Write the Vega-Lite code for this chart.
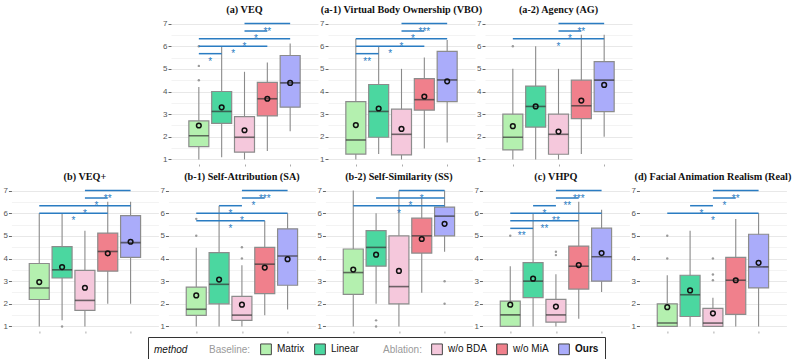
{
  "$schema": "https://vega.github.io/schema/vega-lite/v6.json",
  "padding": {"left": 2, "top": 4, "right": 0, "bottom": 0},
  "background": "white",
  "datasets": {
    "d": [
      {"k":"b","m":"(a) VEQ","method":"Matrix","i":1,"lo":1.0,"q1":1.57,"med":2.05,"q3":2.7,"hi":4.2,"mean":2.5},
      {"k":"b","m":"(a) VEQ","method":"Linear","i":2,"lo":1.1,"q1":2.59,"med":3.12,"q3":4.0,"hi":6.0,"mean":3.3},
      {"k":"b","m":"(a) VEQ","method":"w/o BDA","i":3,"lo":1.0,"q1":1.32,"med":1.98,"q3":2.89,"hi":4.87,"mean":2.29},
      {"k":"b","m":"(a) VEQ","method":"w/o MiA","i":4,"lo":1.37,"q1":2.92,"med":3.68,"q3":4.4,"hi":5.28,"mean":3.68},
      {"k":"b","m":"(a) VEQ","method":"Ours","i":5,"lo":2.25,"q1":3.31,"med":4.38,"q3":5.59,"hi":6.12,"mean":4.38},
      {"k":"o","m":"(a) VEQ","method":"Matrix","i":1,"v":4.5},
      {"k":"o","m":"(a) VEQ","method":"Matrix","i":1,"v":5.13},
      {"k":"o","m":"(a) VEQ","method":"Matrix","i":1,"v":6.0},
      {"k":"s","m":"(a) VEQ","a":3,"b":5,"y":7.0,"lab":"**"},
      {"k":"s","m":"(a) VEQ","a":3,"b":4,"y":6.67,"lab":"*"},
      {"k":"s","m":"(a) VEQ","a":1,"b":5,"y":6.33,"lab":"*"},
      {"k":"s","m":"(a) VEQ","a":1,"b":4,"y":6.0,"lab":"*"},
      {"k":"s","m":"(a) VEQ","a":1,"b":2,"y":5.67,"lab":"*"},

      {"k":"b","m":"(a-1) Virtual Body Ownership (VBO)","method":"Matrix","i":1,"lo":1.0,"q1":1.24,"med":1.86,"q3":3.55,"hi":6.33,"mean":2.52},
      {"k":"b","m":"(a-1) Virtual Body Ownership (VBO)","method":"Linear","i":2,"lo":1.24,"q1":1.98,"med":3.12,"q3":4.31,"hi":6.0,"mean":3.25},
      {"k":"b","m":"(a-1) Virtual Body Ownership (VBO)","method":"w/o BDA","i":3,"lo":1.0,"q1":1.2,"med":2.11,"q3":3.22,"hi":5.0,"mean":2.35},
      {"k":"b","m":"(a-1) Virtual Body Ownership (VBO)","method":"w/o MiA","i":4,"lo":1.48,"q1":3.18,"med":3.64,"q3":4.57,"hi":5.5,"mean":3.78},
      {"k":"b","m":"(a-1) Virtual Body Ownership (VBO)","method":"Ours","i":5,"lo":1.75,"q1":3.55,"med":4.51,"q3":5.77,"hi":6.27,"mean":4.45},
      {"k":"s","m":"(a-1) Virtual Body Ownership (VBO)","a":3,"b":5,"y":7.0,"lab":"***"},
      {"k":"s","m":"(a-1) Virtual Body Ownership (VBO)","a":3,"b":4,"y":6.67,"lab":"*"},
      {"k":"s","m":"(a-1) Virtual Body Ownership (VBO)","a":1,"b":5,"y":6.33,"lab":"*"},
      {"k":"s","m":"(a-1) Virtual Body Ownership (VBO)","a":1,"b":4,"y":6.0,"lab":"*"},
      {"k":"s","m":"(a-1) Virtual Body Ownership (VBO)","a":1,"b":2,"y":5.67,"lab":"**"},

      {"k":"b","m":"(a-2) Agency (AG)","method":"Matrix","i":1,"lo":1.0,"q1":1.42,"med":1.98,"q3":3.0,"hi":5.0,"mean":2.47},
      {"k":"b","m":"(a-2) Agency (AG)","method":"Linear","i":2,"lo":1.0,"q1":2.43,"med":3.34,"q3":4.24,"hi":6.0,"mean":3.34},
      {"k":"b","m":"(a-2) Agency (AG)","method":"w/o BDA","i":3,"lo":1.0,"q1":1.23,"med":2.11,"q3":3.0,"hi":5.0,"mean":2.23},
      {"k":"b","m":"(a-2) Agency (AG)","method":"w/o MiA","i":4,"lo":1.24,"q1":2.8,"med":3.37,"q3":4.5,"hi":6.5,"mean":3.6},
      {"k":"b","m":"(a-2) Agency (AG)","method":"Ours","i":5,"lo":2.0,"q1":3.11,"med":4.5,"q3":5.32,"hi":6.5,"mean":4.29},
      {"k":"o","m":"(a-2) Agency (AG)","method":"Matrix","i":1,"v":6.0},
      {"k":"s","m":"(a-2) Agency (AG)","a":3,"b":5,"y":7.0,"lab":"**"},
      {"k":"s","m":"(a-2) Agency (AG)","a":3,"b":4,"y":6.67,"lab":"*"},
      {"k":"s","m":"(a-2) Agency (AG)","a":1,"b":5,"y":6.33,"lab":"*"},

      {"k":"b","m":"(b) VEQ+","method":"Matrix","i":1,"lo":1.0,"q1":2.19,"med":2.7,"q3":3.78,"hi":6.0,"mean":2.96},
      {"k":"b","m":"(b) VEQ+","method":"Linear","i":2,"lo":1.27,"q1":3.14,"med":3.5,"q3":4.52,"hi":6.0,"mean":3.62},
      {"k":"b","m":"(b) VEQ+","method":"w/o BDA","i":3,"lo":1.0,"q1":1.71,"med":2.15,"q3":3.48,"hi":5.23,"mean":2.71},
      {"k":"b","m":"(b) VEQ+","method":"w/o MiA","i":4,"lo":2.0,"q1":3.44,"med":4.31,"q3":5.12,"hi":6.5,"mean":4.23},
      {"k":"b","m":"(b) VEQ+","method":"Ours","i":5,"lo":2.0,"q1":4.05,"med":4.7,"q3":5.89,"hi":6.5,"mean":4.74},
      {"k":"o","m":"(b) VEQ+","method":"Linear","i":2,"v":1.0},
      {"k":"s","m":"(b) VEQ+","a":3,"b":5,"y":7.0,"lab":"**"},
      {"k":"s","m":"(b) VEQ+","a":3,"b":4,"y":6.67,"lab":"*"},
      {"k":"s","m":"(b) VEQ+","a":1,"b":5,"y":6.33,"lab":"*"},
      {"k":"s","m":"(b) VEQ+","a":1,"b":4,"y":6.0,"lab":"*"},

      {"k":"b","m":"(b-1) Self-Attribution (SA)","method":"Matrix","i":1,"lo":1.0,"q1":1.49,"med":1.76,"q3":2.74,"hi":4.48,"mean":2.37},
      {"k":"b","m":"(b-1) Self-Attribution (SA)","method":"Linear","i":2,"lo":1.0,"q1":2.0,"med":2.86,"q3":4.26,"hi":6.33,"mean":3.07},
      {"k":"b","m":"(b-1) Self-Attribution (SA)","method":"w/o BDA","i":3,"lo":1.0,"q1":1.27,"med":1.5,"q3":2.33,"hi":3.7,"mean":1.96},
      {"k":"b","m":"(b-1) Self-Attribution (SA)","method":"w/o MiA","i":4,"lo":1.5,"q1":2.45,"med":3.75,"q3":4.49,"hi":5.67,"mean":3.6},
      {"k":"b","m":"(b-1) Self-Attribution (SA)","method":"Ours","i":5,"lo":1.75,"q1":2.82,"med":4.11,"q3":5.31,"hi":6.0,"mean":3.97},
      {"k":"o","m":"(b-1) Self-Attribution (SA)","method":"Matrix","i":1,"v":5.0},
      {"k":"o","m":"(b-1) Self-Attribution (SA)","method":"Matrix","i":1,"v":5.75},
      {"k":"o","m":"(b-1) Self-Attribution (SA)","method":"w/o BDA","i":3,"v":4.0},
      {"k":"o","m":"(b-1) Self-Attribution (SA)","method":"w/o BDA","i":3,"v":4.5},
      {"k":"s","m":"(b-1) Self-Attribution (SA)","a":3,"b":5,"y":7.0,"lab":"***"},
      {"k":"s","m":"(b-1) Self-Attribution (SA)","a":3,"b":4,"y":6.67,"lab":"*"},
      {"k":"s","m":"(b-1) Self-Attribution (SA)","a":2,"b":3,"y":6.33,"lab":"*"},
      {"k":"s","m":"(b-1) Self-Attribution (SA)","a":1,"b":5,"y":6.0,"lab":"*"},
      {"k":"s","m":"(b-1) Self-Attribution (SA)","a":1,"b":4,"y":5.67,"lab":"*"},

      {"k":"b","m":"(b-2) Self-Similarity (SS)","method":"Matrix","i":1,"lo":1.0,"q1":2.42,"med":3.38,"q3":4.42,"hi":7.0,"mean":3.51},
      {"k":"b","m":"(b-2) Self-Similarity (SS)","method":"Linear","i":2,"lo":2.0,"q1":3.66,"med":4.49,"q3":5.23,"hi":6.0,"mean":4.17},
      {"k":"b","m":"(b-2) Self-Similarity (SS)","method":"w/o BDA","i":3,"lo":1.0,"q1":2.0,"med":2.76,"q3":5.0,"hi":7.0,"mean":3.45},
      {"k":"b","m":"(b-2) Self-Similarity (SS)","method":"w/o MiA","i":4,"lo":2.49,"q1":4.24,"med":5.0,"q3":5.78,"hi":6.67,"mean":4.86},
      {"k":"b","m":"(b-2) Self-Similarity (SS)","method":"Ours","i":5,"lo":4.3,"q1":5.0,"med":5.87,"q3":6.27,"hi":7.0,"mean":5.53},
      {"k":"o","m":"(b-2) Self-Similarity (SS)","method":"Linear","i":2,"v":1.27},
      {"k":"o","m":"(b-2) Self-Similarity (SS)","method":"Linear","i":2,"v":1.0},
      {"k":"o","m":"(b-2) Self-Similarity (SS)","method":"Ours","i":5,"v":3.0},
      {"k":"o","m":"(b-2) Self-Similarity (SS)","method":"Ours","i":5,"v":2.0},
      {"k":"s","m":"(b-2) Self-Similarity (SS)","a":3,"b":5,"y":7.0,"lab":"*"},
      {"k":"s","m":"(b-2) Self-Similarity (SS)","a":2,"b":5,"y":6.67,"lab":"*"},
      {"k":"s","m":"(b-2) Self-Similarity (SS)","a":1,"b":5,"y":6.33,"lab":"*"},

      {"k":"b","m":"(c) VHPQ","method":"Matrix","i":1,"lo":1.0,"q1":1.0,"med":1.51,"q3":2.12,"hi":3.66,"mean":1.96},
      {"k":"b","m":"(c) VHPQ","method":"Linear","i":2,"lo":1.0,"q1":2.27,"med":3.0,"q3":3.82,"hi":6.0,"mean":3.11},
      {"k":"b","m":"(c) VHPQ","method":"w/o BDA","i":3,"lo":1.0,"q1":1.19,"med":1.51,"q3":2.2,"hi":3.3,"mean":1.88},
      {"k":"b","m":"(c) VHPQ","method":"w/o MiA","i":4,"lo":1.34,"q1":2.65,"med":3.66,"q3":4.55,"hi":6.5,"mean":3.71},
      {"k":"b","m":"(c) VHPQ","method":"Ours","i":5,"lo":2.52,"q1":3.0,"med":4.08,"q3":5.34,"hi":6.15,"mean":4.24},
      {"k":"o","m":"(c) VHPQ","method":"Matrix","i":1,"v":5.0},
      {"k":"o","m":"(c) VHPQ","method":"w/o BDA","i":3,"v":4.15},
      {"k":"o","m":"(c) VHPQ","method":"w/o BDA","i":3,"v":4.3},
      {"k":"s","m":"(c) VHPQ","a":3,"b":5,"y":7.0,"lab":"***"},
      {"k":"s","m":"(c) VHPQ","a":3,"b":4,"y":6.67,"lab":"**"},
      {"k":"s","m":"(c) VHPQ","a":2,"b":3,"y":6.33,"lab":"*"},
      {"k":"s","m":"(c) VHPQ","a":1,"b":5,"y":6.0,"lab":"**"},
      {"k":"s","m":"(c) VHPQ","a":1,"b":4,"y":5.67,"lab":"**"},
      {"k":"s","m":"(c) VHPQ","a":1,"b":2,"y":5.33,"lab":"**"},

      {"k":"b","m":"(d) Facial Animation Realism (Real)","method":"Matrix","i":1,"lo":1.0,"q1":1.0,"med":1.15,"q3":2.0,"hi":3.26,"mean":1.85},
      {"k":"b","m":"(d) Facial Animation Realism (Real)","method":"Linear","i":2,"lo":1.0,"q1":1.44,"med":2.4,"q3":3.26,"hi":5.23,"mean":2.59},
      {"k":"b","m":"(d) Facial Animation Realism (Real)","method":"w/o BDA","i":3,"lo":1.0,"q1":1.0,"med":1.15,"q3":1.8,"hi":2.27,"mean":1.58},
      {"k":"b","m":"(d) Facial Animation Realism (Real)","method":"w/o MiA","i":4,"lo":1.0,"q1":1.53,"med":3.04,"q3":4.05,"hi":5.74,"mean":3.04},
      {"k":"b","m":"(d) Facial Animation Realism (Real)","method":"Ours","i":5,"lo":1.0,"q1":2.7,"med":3.63,"q3":5.07,"hi":6.0,"mean":3.81},
      {"k":"o","m":"(d) Facial Animation Realism (Real)","method":"Matrix","i":1,"v":4.0},
      {"k":"o","m":"(d) Facial Animation Realism (Real)","method":"Matrix","i":1,"v":5.0},
      {"k":"o","m":"(d) Facial Animation Realism (Real)","method":"w/o BDA","i":3,"v":3.04},
      {"k":"o","m":"(d) Facial Animation Realism (Real)","method":"w/o BDA","i":3,"v":3.29},
      {"k":"o","m":"(d) Facial Animation Realism (Real)","method":"w/o BDA","i":3,"v":4.0},
      {"k":"s","m":"(d) Facial Animation Realism (Real)","a":3,"b":5,"y":7.0,"lab":"**"},
      {"k":"s","m":"(d) Facial Animation Realism (Real)","a":3,"b":4,"y":6.67,"lab":"*"},
      {"k":"s","m":"(d) Facial Animation Realism (Real)","a":2,"b":3,"y":6.33,"lab":"*"},
      {"k":"s","m":"(d) Facial Animation Realism (Real)","a":1,"b":5,"y":6.0,"lab":"*"}
    ]
  },
  "vconcat": [
    {
      "data": {"name": "d"},
      "transform": [{"filter": {"field": "m", "oneOf": ["(a) VEQ", "(a-1) Virtual Body Ownership (VBO)", "(a-2) Agency (AG)"]}}],
      "facet": {"column": {"field": "m", "type": "nominal", "sort": ["(a) VEQ", "(a-1) Virtual Body Ownership (VBO)", "(a-2) Agency (AG)"], "header": {"title": null, "labelFont": "Liberation Serif", "labelFontWeight": "bold", "labelFontSize": 10.2, "labelColor": "#111", "labelPadding": 4}}},
      "spacing": {"column": 1},
      "resolve": {"axis": {"y": "independent"}},
      "spec": {
        "width": 147, "height": 145,
        "resolve": {"axis": {"y": "independent"}},
        "layer": [
          {"transform": [{"filter": {"field": "k", "equal": "b"}}],
           "mark": {"type": "rule", "color": "#8a8a8a", "strokeWidth": 1.1},
           "encoding": {
             "x": {"field": "i", "type": "quantitative", "scale": {"domain": [0, 6], "nice": false}, "axis": {"values": [1,2,3,4,5], "labels": false, "domain": false, "grid": false, "ticks": true, "tickSize": 2, "tickColor": "#aaa", "title": null}},
             "y": {"field": "lo", "type": "quantitative", "scale": {"domain": [0.8, 7.2], "nice": false, "zero": false},
               "axis": {"title": null, "values": [1,2,3,4,5,6,7], "labelOverlap": false, "gridColor": "#e8e8e8", "domain": false, "tickSize": 3, "tickColor": "#666", "labelFontSize": 8, "labelColor": "#555", "labelPadding": 1, "labelFont": "Liberation Sans"}},
             "y2": {"field": "hi"}
           }},
          {"transform": [{"filter": {"field": "k", "equal": "b"}}],
           "mark": {"type": "bar", "width": 20, "stroke": "#8c8c8c", "strokeWidth": 1.2},
           "encoding": {
             "x": {"field": "i", "type": "quantitative"},
             "y": {"field": "q1", "type": "quantitative", "axis": {"orient": "right", "title": null, "values": [1.5,2.5,3.5,4.5,5.5,6.5], "labels": false, "ticks": false, "domain": false, "grid": true, "gridColor": "#f3f3f3"}},
             "y2": {"field": "q3"},
             "color": {"field": "method", "type": "nominal",
               "scale": {"domain": ["Baseline:", "Matrix", "Linear", "Ablation:", "w/o BDA", "w/o MiA", "Ours"], "range": ["#ffffff", "#b4f0af", "#4bd7a0", "#ffffff", "#f5c8dc", "#f0808c", "#aaacfa"]},
               "legend": {"title": "method", "orient": "none", "legendX": 137, "legendY": 318, "encode": {
                 "symbols": {"update": {"opacity": {"signal": "datum.value === 'Baseline:' || datum.value === 'Ablation:' ? 0 : 1"}, "stroke": {"value": "#444"}, "strokeWidth": {"value": 1}}},
                 "labels": {"update": {"fill": {"signal": "datum.value === 'Baseline:' || datum.value === 'Ablation:' ? '#9a9a9a' : '#111'"}, "fontWeight": {"signal": "datum.value === 'Ours' ? 'bold' : 'normal'"}}}
               }}}
           }},
          {"transform": [{"filter": {"field": "k", "equal": "b"}}],
           "mark": {"type": "tick", "orient": "horizontal", "size": 20, "thickness": 1.6, "color": "#333"},
           "encoding": {"x": {"field": "i", "type": "quantitative"}, "y": {"field": "med", "type": "quantitative", "axis": null}}},
          {"transform": [{"filter": {"field": "k", "equal": "b"}}],
           "mark": {"type": "point", "shape": "circle", "filled": false, "stroke": "#111", "strokeWidth": 1.5, "size": 22, "opacity": 1},
           "encoding": {"x": {"field": "i", "type": "quantitative"}, "y": {"field": "mean", "type": "quantitative", "axis": null}}},
          {"transform": [{"filter": {"field": "k", "equal": "o"}}],
           "mark": {"type": "point", "shape": "circle", "filled": true, "color": "#9a9a9a", "size": 6, "opacity": 1},
           "encoding": {"x": {"field": "i", "type": "quantitative"}, "y": {"field": "v", "type": "quantitative", "axis": null}}},
          {"transform": [{"filter": {"field": "k", "equal": "s"}}],
           "mark": {"type": "rule", "color": "#2a7cc2", "strokeWidth": 1.5},
           "encoding": {"x": {"field": "a", "type": "quantitative"}, "x2": {"field": "b"}, "y": {"field": "y", "type": "quantitative", "axis": null}}},
          {"transform": [{"filter": {"field": "k", "equal": "s"}}, {"calculate": "(datum.a + datum.b) / 2", "as": "mid"}],
           "mark": {"type": "text", "color": "#2a7cc2", "fontSize": 10, "font": "Liberation Sans", "baseline": "alphabetic", "dy": 11},
           "encoding": {"x": {"field": "mid", "type": "quantitative"}, "y": {"field": "y", "type": "quantitative", "axis": null}, "text": {"field": "lab"}}}
        ]
      }
    },
    {
      "data": {"name": "d"},
      "transform": [{"filter": {"field": "m", "oneOf": ["(b) VEQ+", "(b-1) Self-Attribution (SA)", "(b-2) Self-Similarity (SS)", "(c) VHPQ", "(d) Facial Animation Realism (Real)"]}}],
      "facet": {"column": {"field": "m", "type": "nominal", "sort": ["(b) VEQ+", "(b-1) Self-Attribution (SA)", "(b-2) Self-Similarity (SS)", "(c) VHPQ", "(d) Facial Animation Realism (Real)"], "header": {"title": null, "labelFont": "Liberation Serif", "labelFontWeight": "bold", "labelFontSize": 10.2, "labelColor": "#111", "labelPadding": 4}}},
      "spacing": {"column": 1},
      "resolve": {"axis": {"y": "independent"}},
      "spec": {
        "width": 147, "height": 145,
        "resolve": {"axis": {"y": "independent"}},
        "layer": [
          {"transform": [{"filter": {"field": "k", "equal": "b"}}],
           "mark": {"type": "rule", "color": "#8a8a8a", "strokeWidth": 1.1},
           "encoding": {
             "x": {"field": "i", "type": "quantitative", "scale": {"domain": [0, 6], "nice": false}, "axis": {"values": [1,2,3,4,5], "labels": false, "domain": false, "grid": false, "ticks": true, "tickSize": 2, "tickColor": "#aaa", "title": null}},
             "y": {"field": "lo", "type": "quantitative", "scale": {"domain": [0.8, 7.2], "nice": false, "zero": false},
               "axis": {"title": null, "values": [1,2,3,4,5,6,7], "labelOverlap": false, "gridColor": "#e8e8e8", "domain": false, "tickSize": 3, "tickColor": "#666", "labelFontSize": 8, "labelColor": "#555", "labelPadding": 1, "labelFont": "Liberation Sans"}},
             "y2": {"field": "hi"}
           }},
          {"transform": [{"filter": {"field": "k", "equal": "b"}}],
           "mark": {"type": "bar", "width": 20, "stroke": "#8c8c8c", "strokeWidth": 1.2},
           "encoding": {
             "x": {"field": "i", "type": "quantitative"},
             "y": {"field": "q1", "type": "quantitative", "axis": {"orient": "right", "title": null, "values": [1.5,2.5,3.5,4.5,5.5,6.5], "labels": false, "ticks": false, "domain": false, "grid": true, "gridColor": "#f3f3f3"}},
             "y2": {"field": "q3"},
             "color": {"field": "method", "type": "nominal",
               "scale": {"domain": ["Baseline:", "Matrix", "Linear", "Ablation:", "w/o BDA", "w/o MiA", "Ours"], "range": ["#ffffff", "#b4f0af", "#4bd7a0", "#ffffff", "#f5c8dc", "#f0808c", "#aaacfa"]},
               "legend": {"title": "method", "orient": "none", "legendX": 137, "legendY": 318, "encode": {
                 "symbols": {"update": {"opacity": {"signal": "datum.value === 'Baseline:' || datum.value === 'Ablation:' ? 0 : 1"}, "stroke": {"value": "#444"}, "strokeWidth": {"value": 1}}},
                 "labels": {"update": {"fill": {"signal": "datum.value === 'Baseline:' || datum.value === 'Ablation:' ? '#9a9a9a' : '#111'"}, "fontWeight": {"signal": "datum.value === 'Ours' ? 'bold' : 'normal'"}}}
               }}}
           }},
          {"transform": [{"filter": {"field": "k", "equal": "b"}}],
           "mark": {"type": "tick", "orient": "horizontal", "size": 20, "thickness": 1.6, "color": "#333"},
           "encoding": {"x": {"field": "i", "type": "quantitative"}, "y": {"field": "med", "type": "quantitative", "axis": null}}},
          {"transform": [{"filter": {"field": "k", "equal": "b"}}],
           "mark": {"type": "point", "shape": "circle", "filled": false, "stroke": "#111", "strokeWidth": 1.5, "size": 22, "opacity": 1},
           "encoding": {"x": {"field": "i", "type": "quantitative"}, "y": {"field": "mean", "type": "quantitative", "axis": null}}},
          {"transform": [{"filter": {"field": "k", "equal": "o"}}],
           "mark": {"type": "point", "shape": "circle", "filled": true, "color": "#9a9a9a", "size": 6, "opacity": 1},
           "encoding": {"x": {"field": "i", "type": "quantitative"}, "y": {"field": "v", "type": "quantitative", "axis": null}}},
          {"transform": [{"filter": {"field": "k", "equal": "s"}}],
           "mark": {"type": "rule", "color": "#2a7cc2", "strokeWidth": 1.5},
           "encoding": {"x": {"field": "a", "type": "quantitative"}, "x2": {"field": "b"}, "y": {"field": "y", "type": "quantitative", "axis": null}}},
          {"transform": [{"filter": {"field": "k", "equal": "s"}}, {"calculate": "(datum.a + datum.b) / 2", "as": "mid"}],
           "mark": {"type": "text", "color": "#2a7cc2", "fontSize": 10, "font": "Liberation Sans", "baseline": "alphabetic", "dy": 11},
           "encoding": {"x": {"field": "mid", "type": "quantitative"}, "y": {"field": "y", "type": "quantitative", "axis": null}, "text": {"field": "lab"}}}
        ]
      }
    }
  ],
  "spacing": 4,
  "center": true,
  "resolve": {"scale": {"color": "shared"}},
  "config": {
    "view": {"stroke": null},
    "legend": {
      "direction": "horizontal", "titleOrient": "left",
      "titleFontStyle": "italic", "titleFontWeight": "normal", "titleFont": "Liberation Sans", "titleFontSize": 10, "titleColor": "#111", "titlePadding": 4,
      "labelFont": "Liberation Sans", "labelFontSize": 10, "labelColor": "#111",
      "symbolType": "square", "symbolSize": 115, "symbolStrokeWidth": 1, "symbolStrokeColor": "#444",
      "strokeColor": "#333", "fillColor": "white", "padding": 6, "columnPadding": 7, "labelOffset": 5
    }
  }
}
